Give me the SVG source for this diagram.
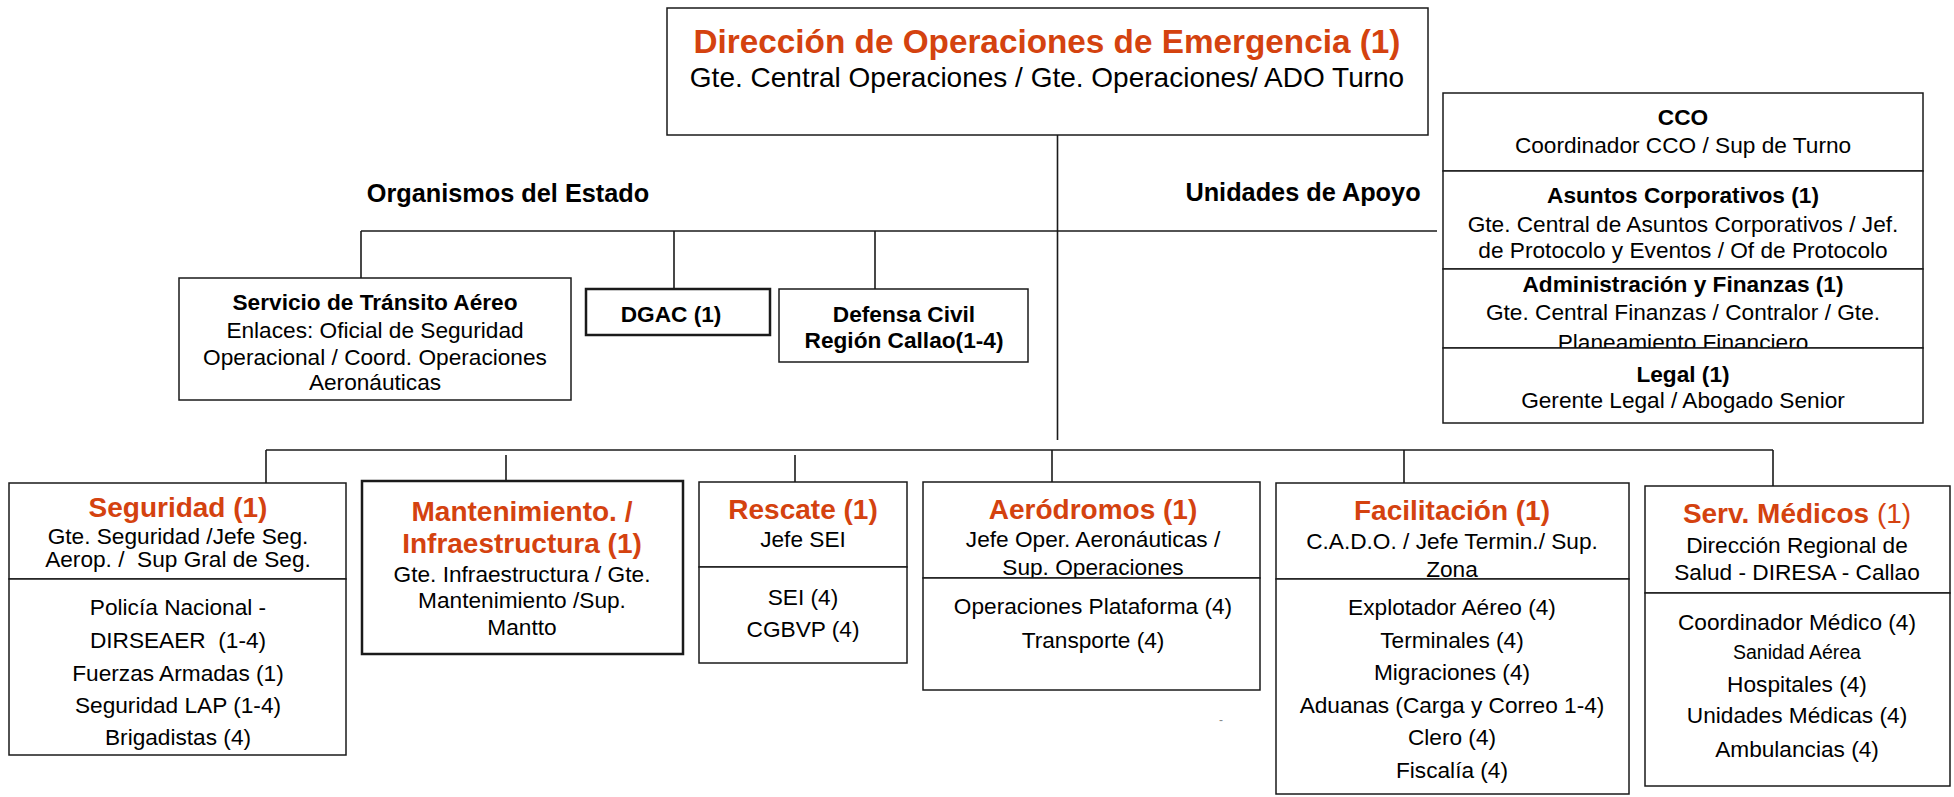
<svg xmlns="http://www.w3.org/2000/svg" width="1954" height="797" viewBox="0 0 1954 797">
<style>
text{font-family:"Liberation Sans",Arial,sans-serif;fill:#000;text-anchor:middle}
.t{font-size:22.67px}
.b{font-size:22.67px;font-weight:bold}
.h{font-size:25.3px;font-weight:bold}
.r{font-size:28px;font-weight:bold;fill:#D4420F}
.box{fill:#fff;stroke:#1a1a1a;stroke-width:1.5}
.thick{fill:#fff;stroke:#1a1a1a;stroke-width:2.5}
.ln{stroke:#1a1a1a;stroke-width:1.6;fill:none}
</style>
<rect width="1954" height="797" fill="#fff"/>
<g id="connectors">
<line class="ln" x1="1057.5" y1="135" x2="1057.5" y2="440"/>
<line class="ln" x1="361" y1="231" x2="1437" y2="231" stroke-width="2"/>
<line class="ln" x1="361" y1="231" x2="361" y2="278"/>
<line class="ln" x1="674" y1="231" x2="674" y2="289"/>
<line class="ln" x1="875" y1="231" x2="875" y2="289"/>
<line class="ln" x1="266" y1="450" x2="1773" y2="450" stroke-width="2"/>
<line class="ln" x1="266" y1="450" x2="266" y2="483"/>
<line class="ln" x1="506" y1="455" x2="506" y2="481"/>
<line class="ln" x1="795" y1="455" x2="795" y2="482"/>
<line class="ln" x1="1052" y1="450" x2="1052" y2="482"/>
<line class="ln" x1="1404" y1="450" x2="1404" y2="483"/>
<line class="ln" x1="1773" y1="450" x2="1773" y2="486"/>
</g>
<g id="direccion">
<rect class="box" x="667" y="8" width="761" height="127"/>
<text class="r" x="1047" y="53" style="font-size:33.3px">Dirección de Operaciones de Emergencia (1)</text>
<text x="1047" y="87" style="font-size:28px">Gte. Central Operaciones / Gte. Operaciones/ ADO Turno</text>
</g>
<g id="label-organismos">
<text class="h" x="508" y="202">Organismos del Estado</text>
</g>
<g id="label-unidades">
<text class="h" x="1303" y="201">Unidades de Apoyo</text>
</g>
<g id="servicio-transito">
<rect class="box" x="179" y="278" width="392" height="122"/>
<text class="b" x="375" y="310">Servicio de Tránsito Aéreo</text>
<text class="t" x="375" y="338">Enlaces: Oficial de Seguridad</text>
<text class="t" x="375" y="365">Operacional / Coord. Operaciones</text>
<text class="t" x="375" y="390">Aeronáuticas</text>
</g>
<g id="dgac">
<rect class="thick" x="586" y="289" width="184" height="46"/>
<text class="b" x="671" y="322">DGAC (1)</text>
</g>
<g id="defensa-civil">
<rect class="box" x="779" y="289" width="249" height="73"/>
<text class="b" x="904" y="322">Defensa Civil</text>
<text class="b" x="904" y="348">Región Callao(1-4)</text>
</g>
<g id="cco">
<rect class="box" x="1443" y="93" width="480" height="78"/>
<text class="b" x="1683" y="125">CCO</text>
<text class="t" x="1683" y="153">Coordinador CCO / Sup de Turno</text>
</g>
<g id="asuntos-corporativos">
<rect class="box" x="1443" y="171" width="480" height="98"/>
<text class="b" x="1683" y="203">Asuntos Corporativos (1)</text>
<text class="t" x="1683" y="232">Gte. Central de Asuntos Corporativos / Jef.</text>
<text class="t" x="1683" y="258">de Protocolo y Eventos / Of de Protocolo</text>
</g>
<g id="administracion-finanzas">
<rect class="box" x="1443" y="269" width="480" height="79"/>
<text class="b" x="1683" y="292">Administración y Finanzas (1)</text>
<text class="t" x="1683" y="320">Gte. Central Finanzas / Contralor / Gte.</text>
<text class="t" x="1683" y="350">Planeamiento Financiero</text>
</g>
<g id="legal">
<rect class="box" x="1443" y="348" width="480" height="75"/>
<text class="b" x="1683" y="382">Legal (1)</text>
<text class="t" x="1683" y="408">Gerente Legal / Abogado Senior</text>
</g>
<g id="seguridad">
<rect class="box" x="9" y="483" width="337" height="96"/>
<text class="r" x="178" y="517">Seguridad (1)</text>
<text class="t" x="178" y="544">Gte. Seguridad /Jefe Seg.</text>
<text class="t" x="178" y="567" xml:space="preserve">Aerop. /  Sup Gral de Seg.</text>
<rect class="box" x="9" y="579" width="337" height="176"/>
<text class="t" x="178" y="615">Policía Nacional -</text>
<text class="t" x="178" y="648" xml:space="preserve">DIRSEAER  (1-4)</text>
<text class="t" x="178" y="681">Fuerzas Armadas (1)</text>
<text class="t" x="178" y="713">Seguridad LAP (1-4)</text>
<text class="t" x="178" y="745">Brigadistas (4)</text>
</g>
<g id="mantenimiento">
<rect class="thick" x="362" y="481" width="321" height="173"/>
<text class="r" x="522" y="521">Mantenimiento. /</text>
<text class="r" x="522" y="553">Infraestructura (1)</text>
<text class="t" x="522" y="582">Gte. Infraestructura / Gte.</text>
<text class="t" x="522" y="608">Mantenimiento /Sup.</text>
<text class="t" x="522" y="635">Mantto</text>
</g>
<g id="rescate">
<rect class="box" x="699" y="482" width="208" height="85"/>
<text class="r" x="803" y="519">Rescate (1)</text>
<text class="t" x="803" y="547">Jefe SEI</text>
<rect class="box" x="699" y="567" width="208" height="96"/>
<text class="t" x="803" y="605">SEI (4)</text>
<text class="t" x="803" y="637">CGBVP (4)</text>
</g>
<g id="aerodromos">
<rect class="box" x="923" y="482" width="337" height="96"/>
<text class="r" x="1093" y="519">Aeródromos (1)</text>
<text class="t" x="1093" y="547">Jefe Oper. Aeronáuticas /</text>
<text class="t" x="1093" y="575">Sup. Operaciones</text>
<rect class="box" x="923" y="578" width="337" height="112"/>
<text class="t" x="1093" y="614">Operaciones Plataforma (4)</text>
<text class="t" x="1093" y="648">Transporte (4)</text>
</g>
<g id="marca">
<text x="1221" y="724" style="font-size:12px;fill:#888">-</text>
</g>
<g id="facilitacion">
<rect class="box" x="1276" y="483" width="353" height="96"/>
<text class="r" x="1452" y="520">Facilitación (1)</text>
<text class="t" x="1452" y="549">C.A.D.O. / Jefe Termin./ Sup.</text>
<text class="t" x="1452" y="577">Zona</text>
<rect class="box" x="1276" y="579" width="353" height="215"/>
<text class="t" x="1452" y="615">Explotador Aéreo (4)</text>
<text class="t" x="1452" y="648">Terminales (4)</text>
<text class="t" x="1452" y="680">Migraciones (4)</text>
<text class="t" x="1452" y="713">Aduanas (Carga y Correo 1-4)</text>
<text class="t" x="1452" y="745">Clero (4)</text>
<text class="t" x="1452" y="778">Fiscalía (4)</text>
</g>
<g id="serv-medicos">
<rect class="box" x="1645" y="486" width="305" height="107"/>
<text class="r" x="1797" y="523">Serv. Médicos<tspan style="font-weight:normal"> (1)</tspan></text>
<text class="t" x="1797" y="553">Dirección Regional de</text>
<text class="t" x="1797" y="580">Salud - DIRESA - Callao</text>
<rect class="box" x="1645" y="593" width="305" height="193"/>
<text class="t" x="1797" y="630">Coordinador Médico (4)</text>
<text x="1797" y="659" style="font-size:19.5px">Sanidad Aérea</text>
<text class="t" x="1797" y="692">Hospitales (4)</text>
<text class="t" x="1797" y="723">Unidades Médicas (4)</text>
<text class="t" x="1797" y="757">Ambulancias (4)</text>
</g>
</svg>
